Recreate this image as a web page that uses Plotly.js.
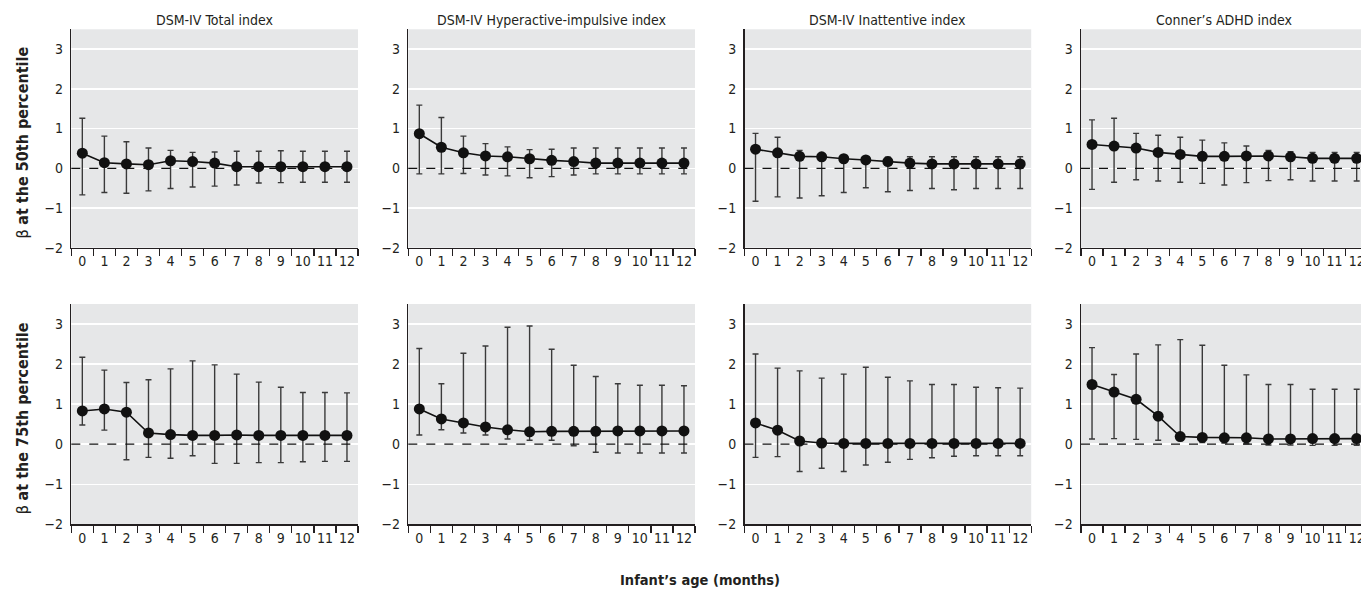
<!DOCTYPE html>
<html>
<head>
<meta charset="utf-8">
<script src="https://cdn.plot.ly/plotly-3.0.1.min.js"></script>
<style>
  html, body { margin: 0; padding: 0; overflow: hidden; background: #fff; }
  #chart { width: 1370px; height: 589px; }
</style>
</head>
<body>
<div id="chart"></div>
<script>
// ---- Data ----
var months = ["0","1","2","3","4","5","6","7","8","9","10","11","12"];
var panelTitles = ["DSM-IV Total index", "DSM-IV Hyperactive-impulsive index", "DSM-IV Inattentive index", "Conner\u2019s ADHD index"];
var rowTitles = ["at the 50th percentile", "at the 75th percentile"];
var xAxisTitle = "Infant\u2019s age (months)";
var yTickVals = [-2, -1, 0, 1, 2, 3];

// Row 1: 50th percentile
var total50     = [0.38, 0.14, 0.11, 0.09, 0.19, 0.17, 0.13, 0.04, 0.04, 0.04, 0.04, 0.04, 0.04];
var total50Hi   = [1.26, 0.81, 0.67, 0.51, 0.45, 0.40, 0.41, 0.43, 0.43, 0.44, 0.43, 0.43, 0.43];
var total50Lo   = [-0.67, -0.61, -0.63, -0.57, -0.51, -0.47, -0.45, -0.42, -0.37, -0.36, -0.35, -0.35, -0.35];

var hyper50     = [0.87, 0.53, 0.39, 0.31, 0.29, 0.24, 0.20, 0.17, 0.13, 0.13, 0.13, 0.13, 0.13];
var hyper50Hi   = [1.59, 1.28, 0.81, 0.62, 0.54, 0.47, 0.48, 0.51, 0.51, 0.51, 0.51, 0.51, 0.51];
var hyper50Lo   = [-0.14, -0.14, -0.13, -0.17, -0.19, -0.24, -0.21, -0.17, -0.14, -0.14, -0.14, -0.14, -0.14];

var inatt50     = [0.48, 0.39, 0.30, 0.29, 0.24, 0.21, 0.17, 0.13, 0.11, 0.11, 0.11, 0.11, 0.11];
var inatt50Hi   = [0.88, 0.78, 0.45, 0.36, 0.32, 0.29, 0.28, 0.29, 0.29, 0.29, 0.29, 0.29, 0.29];
var inatt50Lo   = [-0.83, -0.72, -0.75, -0.69, -0.61, -0.49, -0.59, -0.56, -0.51, -0.54, -0.51, -0.51, -0.51];

var conner50    = [0.60, 0.56, 0.51, 0.40, 0.35, 0.30, 0.30, 0.31, 0.31, 0.29, 0.25, 0.25, 0.25];
var conner50Hi  = [1.22, 1.26, 0.88, 0.83, 0.78, 0.71, 0.64, 0.56, 0.45, 0.42, 0.40, 0.40, 0.40];
var conner50Lo  = [-0.53, -0.35, -0.29, -0.32, -0.35, -0.38, -0.42, -0.36, -0.31, -0.29, -0.32, -0.32, -0.32];

// Row 2: 75th percentile
var total75     = [0.83, 0.88, 0.80, 0.28, 0.24, 0.22, 0.22, 0.23, 0.22, 0.22, 0.22, 0.22, 0.22];
var total75Hi   = [2.17, 1.85, 1.54, 1.61, 1.88, 2.08, 1.98, 1.75, 1.55, 1.42, 1.29, 1.29, 1.28];
var total75Lo   = [0.48, 0.35, -0.39, -0.33, -0.35, -0.29, -0.48, -0.48, -0.46, -0.46, -0.44, -0.43, -0.43];

var hyper75     = [0.88, 0.63, 0.53, 0.43, 0.36, 0.31, 0.32, 0.32, 0.32, 0.33, 0.33, 0.33, 0.33];
var hyper75Hi   = [2.39, 1.51, 2.27, 2.45, 2.92, 2.95, 2.37, 1.97, 1.69, 1.51, 1.47, 1.47, 1.46];
var hyper75Lo   = [0.23, 0.36, 0.28, 0.23, 0.13, 0.10, 0.10, -0.04, -0.20, -0.22, -0.22, -0.22, -0.22];

var inatt75     = [0.53, 0.35, 0.08, 0.03, 0.02, 0.02, 0.02, 0.02, 0.02, 0.02, 0.02, 0.02, 0.02];
var inatt75Hi   = [2.25, 1.90, 1.83, 1.65, 1.75, 1.92, 1.67, 1.58, 1.49, 1.49, 1.42, 1.41, 1.40];
var inatt75Lo   = [-0.33, -0.31, -0.68, -0.60, -0.68, -0.52, -0.45, -0.38, -0.34, -0.30, -0.29, -0.29, -0.29];

var conner75    = [1.49, 1.30, 1.12, 0.70, 0.19, 0.17, 0.16, 0.16, 0.13, 0.13, 0.14, 0.14, 0.14];
var conner75Hi  = [2.41, 1.74, 2.25, 2.48, 2.61, 2.47, 1.97, 1.73, 1.49, 1.49, 1.37, 1.37, 1.37];
var conner75Lo  = [0.13, 0.14, 0.12, 0.10, 0.09, 0.04, 0.03, 0.01, -0.02, -0.02, -0.03, -0.03, -0.03];

// ---- Build ----
var rows = [
  [[total50, total50Hi, total50Lo], [hyper50, hyper50Hi, hyper50Lo], [inatt50, inatt50Hi, inatt50Lo], [conner50, conner50Hi, conner50Lo]],
  [[total75, total75Hi, total75Lo], [hyper75, hyper75Hi, hyper75Lo], [inatt75, inatt75Hi, inatt75Lo], [conner75, conner75Hi, conner75Lo]]
];

var FONT = '"DejaVu Sans Condensed", "Liberation Sans Narrow", "Roboto", sans-serif';
var W = 1370, H = 589;
var colLeft = [71.3, 408.3, 744.5, 1081];
var colWidth = 286.7;
var rowTopBottom = [[29.3, 247.7], [304, 524.3]];

var traces = [];
var layout = {
  width: W, height: H,
  margin: {l: 0, r: 0, t: 0, b: 0},
  paper_bgcolor: '#ffffff',
  plot_bgcolor: '#e6e7e8',
  showlegend: false,
  font: {family: FONT, size: 14, color: '#231f20'},
  shapes: [],
  annotations: []
};

var idx = 0;
for (var r = 0; r < 2; r++) {
  for (var c = 0; c < 4; c++) {
    idx++;
    var sfx = idx === 1 ? '' : String(idx);
    var d = rows[r][c];
    var mean = d[0], hi = d[1], lo = d[2];
    var plus = mean.map(function (v, i) { return +(hi[i] - v).toFixed(3); });
    var minus = mean.map(function (v, i) { return +(v - lo[i]).toFixed(3); });
    traces.push({
      type: 'scatter', mode: 'lines+markers',
      x: months, y: mean,
      xaxis: 'x' + sfx, yaxis: 'y' + sfx,
      line: {color: '#111111', width: 1.6},
      marker: {color: '#111111', size: 11},
      error_y: {type: 'data', symmetric: false, array: plus, arrayminus: minus,
                color: '#3a3a3a', thickness: 1.4, width: 3},
      cliponaxis: false,
      hoverinfo: 'skip'
    });
    var x0 = colLeft[c] / W, x1 = (colLeft[c] + colWidth) / W;
    var y0 = 1 - rowTopBottom[r][1] / H, y1 = 1 - rowTopBottom[r][0] / H;
    layout['xaxis' + sfx] = {
      domain: [x0, x1], anchor: 'y' + sfx,
      type: 'category', categoryorder: 'array', categoryarray: months,
      range: [-0.5, 12.5], tickson: 'boundaries',
      ticks: 'outside', ticklen: 7, tickwidth: 1.3, tickcolor: '#231f20',
      tickangle: 0, automargin: false,
      showline: true, linecolor: '#231f20', linewidth: 1.5,
      showgrid: false, zeroline: false,
      tickfont: {family: FONT, size: 14, color: '#231f20'},
      fixedrange: true
    };
    layout['yaxis' + sfx] = {
      domain: [y0, y1], anchor: 'x' + sfx,
      range: [-2, 3.5], tickvals: yTickVals,
      ticktext: yTickVals.map(function (v) { return v < 0 ? '\u2212' + Math.abs(v) : String(v); }),
      ticks: '', showline: true, linecolor: '#231f20', linewidth: 1.5,
      showgrid: true, gridcolor: '#ffffff', gridwidth: 1.5,
      zeroline: false, ticklabelstandoff: 4, automargin: false,
      tickfont: {family: FONT, size: 14, color: '#231f20'},
      fixedrange: true
    };
    layout.shapes.push({
      type: 'line', xref: 'x' + sfx + ' domain', yref: 'y' + sfx,
      x0: 0, x1: 1, y0: 0, y1: 0, layer: 'above',
      line: {color: '#111111', width: 1.3, dash: 'dash'}
    });
    if (r === 0) {
      layout.annotations.push({
        text: panelTitles[c], xref: 'paper', yref: 'paper',
        x: (x0 + x1) / 2, y: 1 - 20 / H, xanchor: 'center', yanchor: 'middle',
        showarrow: false, font: {family: FONT, size: 14, color: '#231f20'}
      });
    }
  }
  var rowMid = (rowTopBottom[r][0] + rowTopBottom[r][1]) / 2 + 4;
  layout.annotations.push({
    text: '\u03b2 <b>' + rowTitles[r] + '</b>', xref: 'paper', yref: 'paper',
    x: 22 / W, y: 1 - rowMid / H, xanchor: 'center', yanchor: 'middle',
    textangle: -90, showarrow: false,
    font: {family: FONT, size: 16, color: '#231f20'}
  });
}
layout.annotations.push({
  text: '<b>' + xAxisTitle + '</b>', xref: 'paper', yref: 'paper',
  x: 700 / W, y: 1 - 580 / H, xanchor: 'center', yanchor: 'middle',
  showarrow: false, font: {family: FONT, size: 14.5, color: '#231f20'}
});

Plotly.newPlot('chart', traces, layout, {displayModeBar: false, staticPlot: true});
</script>
</body>
</html>
